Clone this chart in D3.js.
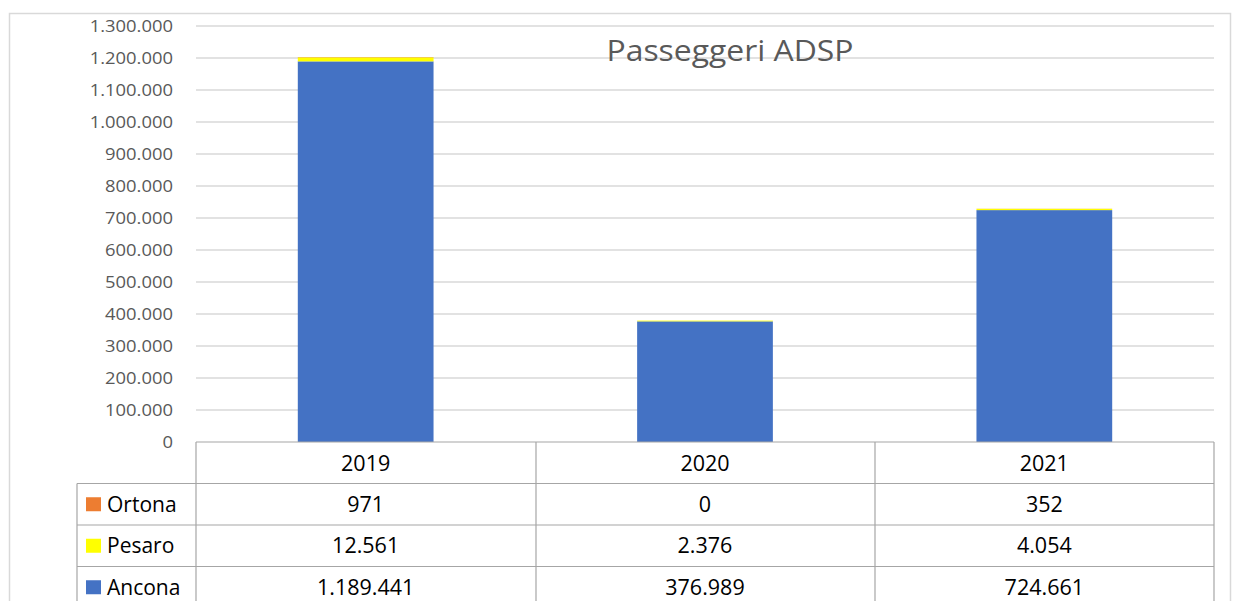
<!DOCTYPE html>
<html><head><meta charset="utf-8">
<script src="https://cdn.jsdelivr.net/npm/d3@7"></script>
<style>body{margin:0;background:#fff;}svg{display:block;}</style>
</head><body><svg id="c" width="1237" height="601"></svg>
<script>
const years = ["2019", "2020", "2021"];
const seriesNames = ["Ancona", "Pesaro", "Ortona"];
const ancona = [1189441, 376989, 724661];
const pesaro = [12561, 2376, 4054];
const ortona = [971, 0, 352];
const colors = {Ancona: "#4472C4", Pesaro: "#FFFF00", Ortona: "#ED7D31"};
const yTicks = [0,100000,200000,300000,400000,500000,600000,700000,800000,900000,1000000,1100000,1200000,1300000];
const tableRows = ["Ortona", "Pesaro", "Ancona"];
const title = "Passeggeri ADSP";

const fmt = v => d3.format(",")(v).replace(/,/g, ".");
const valuesBy = {Ancona: ancona, Pesaro: pesaro, Ortona: ortona};
const svg = d3.select("#c");
const font = "'Open Sans', 'Liberation Sans', sans-serif";

// outer border
svg.append("rect").attr("x", 9.5).attr("y", 13.5).attr("width", 1221).attr("height", 600)
  .attr("fill", "none").attr("stroke", "#d9d9d9").attr("stroke-width", 1.5);

const x = d3.scaleBand().domain(years).range([196, 1214]).paddingInner(0.6).paddingOuter(0.3);
const xCol = d3.scaleBand().domain(years).range([196, 1214]);
const y = d3.scaleLinear().domain([0, 1300000]).range([442, 26]);

// gridlines
svg.append("g").selectAll("line").data(yTicks.slice(1)).join("line")
  .attr("x1", 196).attr("x2", 1214).attr("y1", d => y(d)).attr("y2", d => y(d))
  .attr("stroke", "#d9d9d9").attr("stroke-width", 1.3);

// y axis labels
const yAxis = d3.axisLeft(y).tickValues(yTicks).tickFormat(fmt).tickSize(0).tickPadding(0);
const ga = svg.append("g").attr("transform", "translate(173,0) scale(1.15,1)").call(yAxis);
ga.select(".domain").remove();
ga.selectAll("text").attr("font-family", font).attr("font-size", 16).attr("fill", "#595959").attr("dy", "0.36em");

// stacked bars
const rows = years.map((yr, i) => ({year: yr, Ancona: ancona[i], Pesaro: pesaro[i], Ortona: ortona[i]}));
const stack = d3.stack().keys(seriesNames)(rows);
svg.append("g").selectAll("g").data(stack).join("g").attr("fill", d => colors[d.key])
  .selectAll("rect").data(d => d).join("rect")
  .attr("x", d => x(d.data.year)).attr("width", x.bandwidth())
  .attr("y", d => y(d[1])).attr("height", d => y(d[0]) - y(d[1]));

// title
svg.append("g").attr("transform", "translate(730,61) scale(1.1,1)")
  .append("text").attr("x", 0).attr("y", 0).attr("text-anchor", "middle")
  .attr("font-family", font).attr("font-size", 29).attr("fill", "#595959").text(title);

// data table
const lineColor = "#a6a6a6";
const rowH = 41.5;
const tTop = 442;
const fs = 21.5;
const tg = svg.append("g").attr("stroke", lineColor).attr("stroke-width", 1.2);
tg.append("line").attr("x1", 196).attr("x2", 1214).attr("y1", tTop).attr("y2", tTop);
tableRows.forEach((r, i) => {
  const yy = tTop + rowH * (i + 1);
  tg.append("line").attr("x1", 77).attr("x2", 1214).attr("y1", yy).attr("y2", yy);
});
[196, 536, 875, 1214].forEach(xx => {
  tg.append("line").attr("x1", xx).attr("x2", xx).attr("y1", tTop).attr("y2", 601);
});
tg.append("line").attr("x1", 77).attr("x2", 77).attr("y1", tTop + rowH).attr("y2", 601);

svg.append("g").selectAll("text").data(years).join("text")
  .attr("x", d => xCol(d) + xCol.bandwidth() / 2).attr("y", tTop + rowH / 2 + 8)
  .attr("text-anchor", "middle").attr("font-family", font).attr("font-size", fs).attr("fill", "#000")
  .text(d => d);

tableRows.forEach((name, i) => {
  const cy = tTop + rowH * (i + 1) + rowH / 2;
  svg.append("rect").attr("x", 86).attr("y", cy - 7).attr("width", 15).attr("height", 14).attr("fill", colors[name]);
  svg.append("text").attr("x", 107).attr("y", cy + 7.5).attr("font-family", font).attr("font-size", 21)
    .attr("fill", "#000").text(name);
  svg.append("g").selectAll("text").data(years).join("text")
    .attr("x", d => xCol(d) + xCol.bandwidth() / 2).attr("y", cy + 7.5).attr("text-anchor", "middle")
    .attr("font-family", font).attr("font-size", fs).attr("fill", "#000")
    .text((d, j) => fmt(valuesBy[name][j]));
});
</script></body></html>
